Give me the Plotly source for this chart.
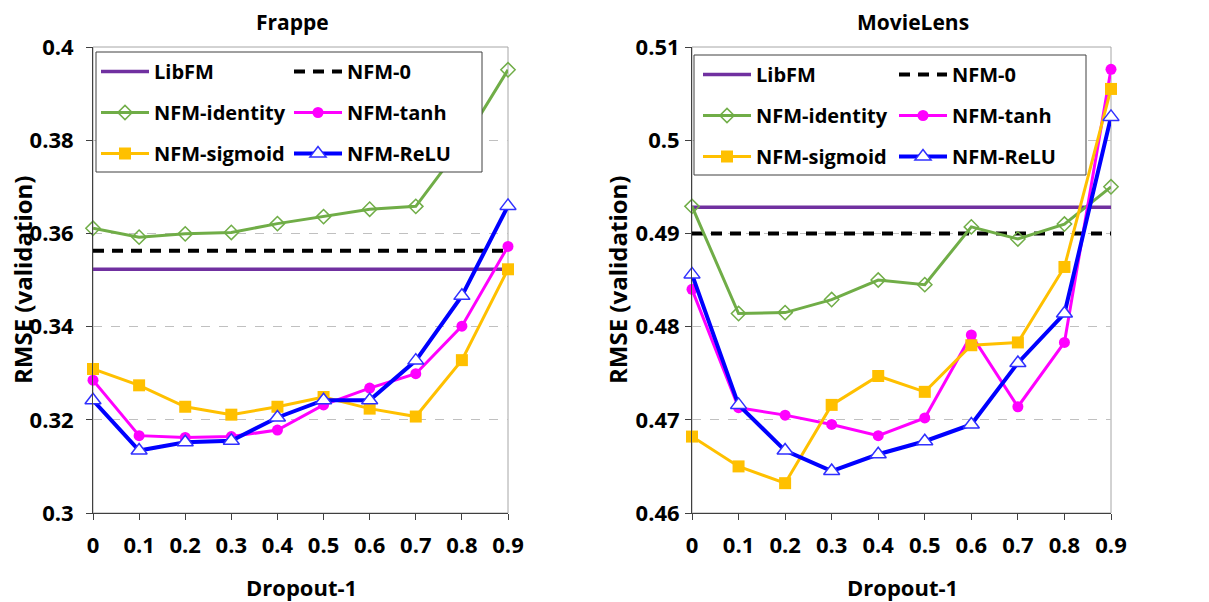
import plotly.graph_objects as go

# ---------------- data ----------------
dropout = [0.0, 0.1, 0.2, 0.3, 0.4, 0.5, 0.6, 0.7, 0.8, 0.9]
dropout_labels = ["0", "0.1", "0.2", "0.3", "0.4", "0.5", "0.6", "0.7", "0.8", "0.9"]

frappe_libfm = 0.3523
frappe_nfm0 = 0.3563
frappe_identity = [0.3611, 0.3592, 0.3599, 0.3602, 0.3621, 0.3636, 0.3652, 0.3658, 0.3790, 0.3951]
frappe_tanh = [0.3285, 0.3166, 0.3162, 0.3164, 0.3178, 0.3232, 0.3268, 0.3299, 0.3401, 0.3572]
frappe_sigmoid = [0.3309, 0.3274, 0.3228, 0.3211, 0.3228, 0.3249, 0.3224, 0.3207, 0.3328, 0.3523]
frappe_relu = [0.3242, 0.3134, 0.3152, 0.3155, 0.3205, 0.3242, 0.3242, 0.3327, 0.3466, 0.3659]
frappe_yticks = [0.30, 0.32, 0.34, 0.36, 0.38, 0.40]
frappe_ylabels = ["0.3", "0.32", "0.34", "0.36", "0.38", "0.4"]

movie_libfm = 0.4928
movie_nfm0 = 0.4900
movie_identity = [0.4929, 0.4814, 0.4815, 0.4829, 0.4850, 0.4845, 0.4907, 0.4894, 0.4910, 0.4950]
movie_tanh = [0.4840, 0.4713, 0.4705, 0.4695, 0.4683, 0.4702, 0.4791, 0.4714, 0.4783, 0.5076]
movie_sigmoid = [0.4682, 0.4650, 0.4632, 0.4716, 0.4747, 0.4730, 0.4780, 0.4783, 0.4864, 0.5055]
movie_relu = [0.4856, 0.4716, 0.4667, 0.4645, 0.4663, 0.4677, 0.4695, 0.4761, 0.4814, 0.5025]
movie_yticks = [0.46, 0.47, 0.48, 0.49, 0.50, 0.51]
movie_ylabels = ["0.46", "0.47", "0.48", "0.49", "0.5", "0.51"]

panel_titles = ["Frappe", "MovieLens"]
x_title = "Dropout-1"
y_title = "RMSE (validation)"

# ---------------- layout helpers ----------------
W, H = 1209, 602
def px(v):
    return v / W
def py(v):
    return 1 - v / H

FONT = "Open Sans"
C_LIBFM = "#7030A0"
C_NFM0 = "#000000"
C_ID = "#70AD47"
C_TANH = "#FF00FF"
C_SIG = "#FFC000"
C_RELU = "#0000FF"

fig = go.Figure()

def add_panel(xa, ya, libfm, nfm0, ident, tanh, sig, relu, lg1, lg2, tag):
    n = len(dropout)
    common = dict(x=dropout, xaxis=xa, yaxis=ya, cliponaxis=False, mode="lines+markers")
    fig.add_trace(go.Scatter(x=dropout, y=[libfm] * n, xaxis=xa, yaxis=ya, mode="lines",
                             name="LibFM", legend=lg1, legendgroup=tag + "a", cliponaxis=False,
                             line=dict(color=C_LIBFM, width=3.5)))
    fig.add_trace(go.Scatter(x=dropout, y=[nfm0] * n, xaxis=xa, yaxis=ya, mode="lines",
                             name="NFM-0", legend=lg2, legendgroup=tag + "b", cliponaxis=False,
                             line=dict(color=C_NFM0, width=4, dash="11px,8px")))
    fig.add_trace(go.Scatter(y=ident, name="NFM-identity", legend=lg1, legendgroup=tag + "c",
                             line=dict(color=C_ID, width=3),
                             marker=dict(symbol="diamond-open", size=11, color=C_ID, line=dict(width=1.5)),
                             **common))
    fig.add_trace(go.Scatter(y=tanh, name="NFM-tanh", legend=lg2, legendgroup=tag + "d",
                             line=dict(color=C_TANH, width=3),
                             marker=dict(symbol="circle", size=11, color=C_TANH),
                             **common))
    fig.add_trace(go.Scatter(y=sig, name="NFM-sigmoid", legend=lg1, legendgroup=tag + "e",
                             line=dict(color=C_SIG, width=3),
                             marker=dict(symbol="square", size=12, color=C_SIG),
                             **common))
    fig.add_trace(go.Scatter(y=relu, name="NFM-ReLU", legend=lg2, legendgroup=tag + "f",
                             line=dict(color=C_RELU, width=4),
                             marker=dict(symbol="triangle-up", size=14, color="white",
                                         line=dict(color="#3030FF", width=1.5)),
                             **common))

add_panel("x", "y", frappe_libfm, frappe_nfm0, frappe_identity, frappe_tanh,
          frappe_sigmoid, frappe_relu, "legend", "legend2", "L")
add_panel("x2", "y2", movie_libfm, movie_nfm0, movie_identity, movie_tanh,
          movie_sigmoid, movie_relu, "legend3", "legend4", "R")

tickfont = dict(family=FONT, size=22, color="black", weight="bold")
xcommon = dict(range=[0, 0.9], tickvals=dropout, ticktext=dropout_labels, showgrid=False,
               zeroline=False, showline=True, linecolor="#404040", linewidth=1,
               ticks="outside", ticklen=6, tickcolor="#404040", tickfont=tickfont,
               ticklabelstandoff=7)
ycommon = dict(showgrid=True, gridcolor="#C0C0C0", griddash="dash", gridwidth=1,
               zeroline=False, showline=True, linecolor="#404040", linewidth=1,
               ticks="outside", ticklen=6, tickcolor="#404040", tickfont=tickfont)

legfont = dict(family=FONT, size=20, color="black", weight="bold")
def leg(x, y):
    return dict(x=px(x), y=py(y), xanchor="left", yanchor="top", orientation="v",
                bgcolor="rgba(0,0,0,0)", borderwidth=0, font=legfont, itemwidth=48,
                tracegroupgap=12, traceorder="grouped")

fig.update_layout(
    width=W, height=H, margin=dict(l=0, r=0, t=0, b=0, autoexpand=False),
    paper_bgcolor="white", plot_bgcolor="white",
    showlegend=True,
    xaxis=dict(domain=[px(93), px(508)], anchor="y", **xcommon),
    yaxis=dict(domain=[py(513), py(47)], anchor="x", range=[0.30, 0.40],
               tickvals=frappe_yticks, ticktext=frappe_ylabels, ticklabelstandoff=8, **ycommon),
    xaxis2=dict(domain=[px(692), px(1111)], anchor="y2", **xcommon),
    yaxis2=dict(domain=[py(513), py(47)], anchor="x2", range=[0.46, 0.51],
                tickvals=movie_yticks, ticktext=movie_ylabels, ticklabelstandoff=1, **ycommon),
    legend=leg(96, 52),
    legend2=leg(289, 52),
    legend3=leg(698, 55),
    legend4=leg(894, 55),
)

# frame (top/right grey border) and legend boxes
for xr, yr in [("x domain", "y domain"), ("x2 domain", "y2 domain")]:
    fig.add_shape(type="rect", xref=xr, yref=yr, x0=0, x1=1, y0=0, y1=1,
                  line=dict(color="#A6A6A6", width=1), layer="below")
for (x0, x1, y0, y1) in [(96, 482, 52, 172), (694, 1086, 55, 175)]:
    fig.add_shape(type="rect", xref="paper", yref="paper", x0=px(x0), x1=px(x1),
                  y0=py(y1), y1=py(y0), fillcolor="white",
                  line=dict(color="#404040", width=1), layer="above")

titlefont = dict(family=FONT, size=21, color="black", weight="bold")
for txt, xc in zip(panel_titles, [292, 913]):
    fig.add_annotation(text=txt, x=px(xc), y=py(22), xref="paper", yref="paper",
                       showarrow=False, font=titlefont, xanchor="center", yanchor="middle")
for xc in [301, 902]:
    fig.add_annotation(text=x_title, x=px(xc), y=py(587), xref="paper", yref="paper",
                       showarrow=False, font=dict(family=FONT, size=22, color="black", weight="bold"),
                       xanchor="center", yanchor="middle")
for xc in [23, 618]:
    fig.add_annotation(text=y_title, x=px(xc), y=py(280), xref="paper", yref="paper",
                       showarrow=False, font=dict(family=FONT, size=24, color="black", weight="bold"),
                       textangle=-90, xanchor="center", yanchor="middle")

fig.write_html("out.html")
